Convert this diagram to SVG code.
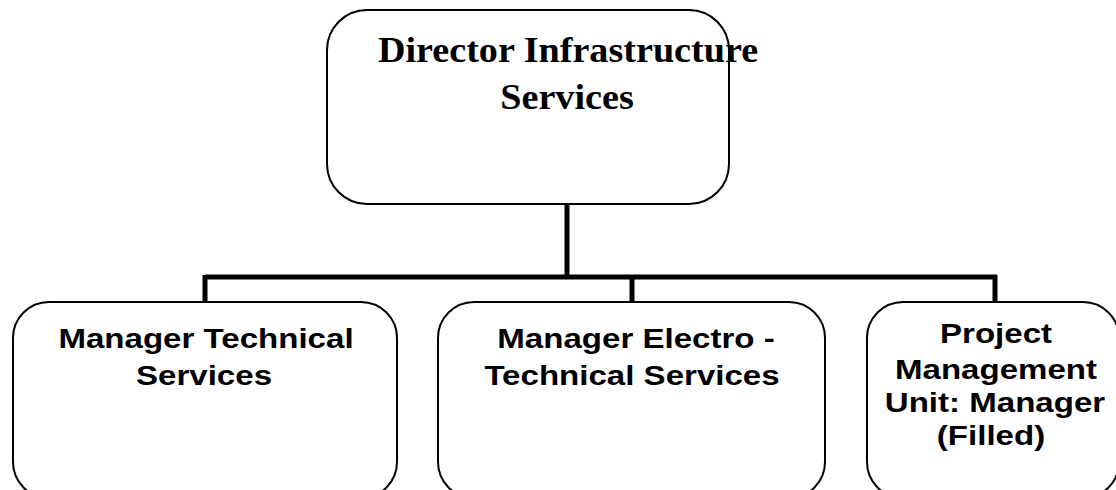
<svg xmlns="http://www.w3.org/2000/svg" width="1116" height="490" viewBox="0 0 1116 490">
<style>
.box{fill:#fff;stroke:#000;stroke-width:2}
.t1{font-family:"Liberation Serif","Times New Roman",serif;font-weight:bold;font-size:36px;fill:#000;text-anchor:middle}
.t2{font-family:"Liberation Sans",Arial,sans-serif;font-weight:bold;font-size:28.5px;fill:#000;text-anchor:middle}
.conn{fill:none;stroke:#000;stroke-width:5}
</style>
<rect width="1116" height="490" fill="#fff"/>
<g id="connectors">
<path class="conn" d="M567,204 V277 M205,277 H997 M205,275 V302 M632,277 V302 M995,275 V302"/>
</g>
<g id="director">
<rect class="box" x="327" y="10" width="402" height="194" rx="40" ry="40"/>
<text class="t1" transform="translate(568,62) scale(1.06,1)">Director Infrastructure</text>
<text class="t1" transform="translate(567,109) scale(1.06,1)">Services</text>
</g>
<g id="mts">
<rect class="box" x="13" y="302" width="384" height="196" rx="36" ry="36"/>
<text class="t2" transform="translate(206,348) scale(1.16,1)">Manager Technical</text>
<text class="t2" transform="translate(204,385) scale(1.16,1)">Services</text>
</g>
<g id="mets">
<rect class="box" x="438" y="302" width="387" height="196" rx="36" ry="36"/>
<text class="t2" transform="translate(636,348) scale(1.16,1)">Manager Electro -</text>
<text class="t2" transform="translate(632,385) scale(1.16,1)">Technical Services</text>
</g>
<g id="pmu">
<rect class="box" x="867" y="302" width="252" height="196" rx="36" ry="36"/>
<text class="t2" transform="translate(996,343) scale(1.16,1)">Project</text>
<text class="t2" transform="translate(996,379) scale(1.16,1)">Management</text>
<text class="t2" transform="translate(995,412) scale(1.16,1)">Unit: Manager</text>
<text class="t2" transform="translate(991,445) scale(1.16,1)">(Filled)</text>
</g>
</svg>
